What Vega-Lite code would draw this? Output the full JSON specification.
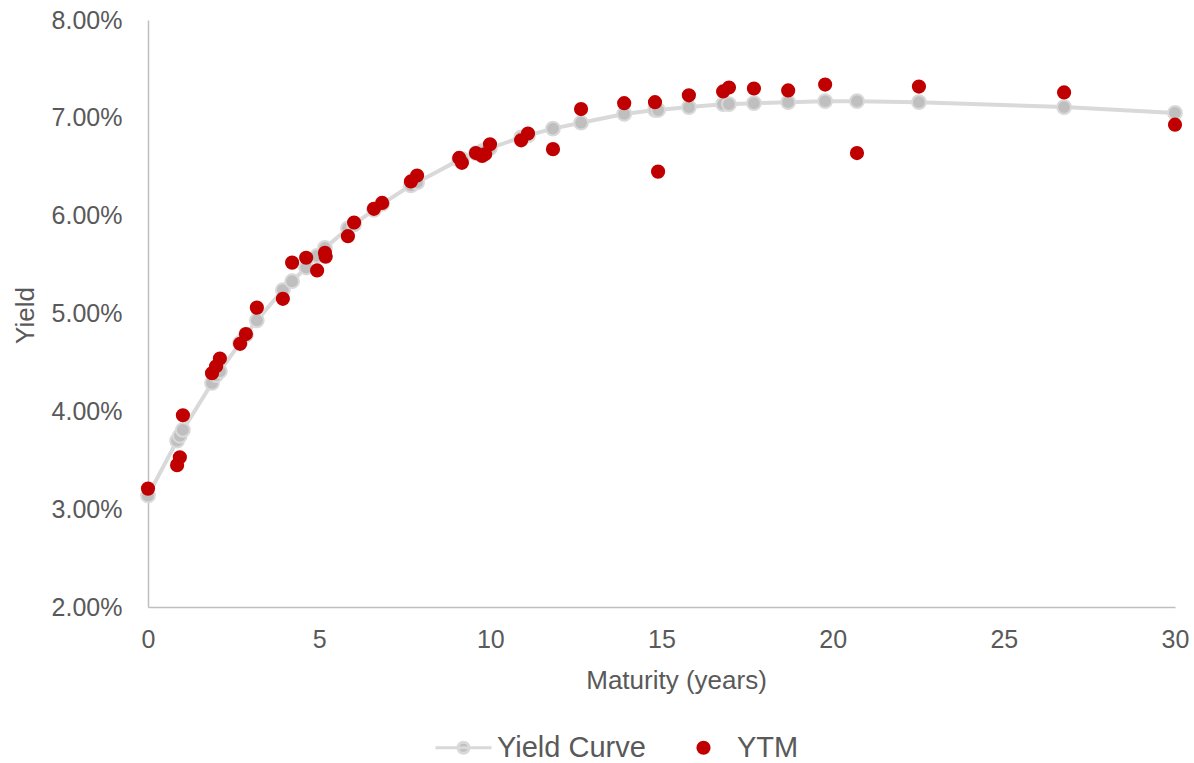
{
  "$schema": "https://vega.github.io/schema/vega-lite/v6.json",
  "width": 1027,
  "height": 587,
  "autosize": {"type": "none"},
  "padding": {"left": 148, "top": 20, "right": 19, "bottom": 156},
  "background": "white",
  "config": {
    "view": {"stroke": null},
    "font": "Liberation Sans",
    "axis": {
      "domainColor": "#bfbfbf",
      "domainWidth": 1.5,
      "ticks": false,
      "grid": false,
      "labelColor": "#595959",
      "labelFont": "Liberation Sans",
      "labelFontSize": 25,
      "labelFlush": false,
      "labelOverlap": false,
      "titleColor": "#595959",
      "titleFont": "Liberation Sans",
      "titleFontSize": 26,
      "titleFontWeight": "normal"
    },
    "legend": {
      "labelColor": "#595959",
      "labelFont": "Liberation Sans",
      "labelFontSize": 29,
      "symbolSize": 3136,
      "symbolStrokeWidth": 3,
      "symbolOpacity": 1,
      "columnPadding": 28,
      "labelOffset": 4,
      "padding": 0
    }
  },
  "data": {
    "values": [
      {"series": "Yield Curve", "m": 0.00, "y": 0.0314},
      {"series": "Yield Curve", "m": 0.85, "y": 0.0370},
      {"series": "Yield Curve", "m": 0.93, "y": 0.0375},
      {"series": "Yield Curve", "m": 1.02, "y": 0.0381},
      {"series": "Yield Curve", "m": 1.87, "y": 0.0429},
      {"series": "Yield Curve", "m": 1.99, "y": 0.0437},
      {"series": "Yield Curve", "m": 2.10, "y": 0.0441},
      {"series": "Yield Curve", "m": 2.69, "y": 0.0470},
      {"series": "Yield Curve", "m": 2.86, "y": 0.0478},
      {"series": "Yield Curve", "m": 3.18, "y": 0.0493},
      {"series": "Yield Curve", "m": 3.94, "y": 0.0524},
      {"series": "Yield Curve", "m": 4.21, "y": 0.0533},
      {"series": "Yield Curve", "m": 4.62, "y": 0.0547},
      {"series": "Yield Curve", "m": 4.94, "y": 0.0559},
      {"series": "Yield Curve", "m": 5.17, "y": 0.0567},
      {"series": "Yield Curve", "m": 5.84, "y": 0.0587},
      {"series": "Yield Curve", "m": 6.02, "y": 0.0591},
      {"series": "Yield Curve", "m": 6.60, "y": 0.0606},
      {"series": "Yield Curve", "m": 6.84, "y": 0.0612},
      {"series": "Yield Curve", "m": 7.68, "y": 0.0631},
      {"series": "Yield Curve", "m": 7.86, "y": 0.0634},
      {"series": "Yield Curve", "m": 9.09, "y": 0.0657},
      {"series": "Yield Curve", "m": 9.17, "y": 0.0658},
      {"series": "Yield Curve", "m": 9.58, "y": 0.0664},
      {"series": "Yield Curve", "m": 9.76, "y": 0.0666},
      {"series": "Yield Curve", "m": 9.85, "y": 0.0667},
      {"series": "Yield Curve", "m": 9.99, "y": 0.0669},
      {"series": "Yield Curve", "m": 10.90, "y": 0.0680},
      {"series": "Yield Curve", "m": 11.10, "y": 0.0682},
      {"series": "Yield Curve", "m": 11.83, "y": 0.0689},
      {"series": "Yield Curve", "m": 12.65, "y": 0.0695},
      {"series": "Yield Curve", "m": 13.91, "y": 0.0704},
      {"series": "Yield Curve", "m": 14.81, "y": 0.0708},
      {"series": "Yield Curve", "m": 14.90, "y": 0.0708},
      {"series": "Yield Curve", "m": 15.80, "y": 0.0711},
      {"series": "Yield Curve", "m": 16.80, "y": 0.0714},
      {"series": "Yield Curve", "m": 16.97, "y": 0.0714},
      {"series": "Yield Curve", "m": 17.70, "y": 0.0715},
      {"series": "Yield Curve", "m": 18.70, "y": 0.0716},
      {"series": "Yield Curve", "m": 19.78, "y": 0.0717},
      {"series": "Yield Curve", "m": 20.71, "y": 0.0717},
      {"series": "Yield Curve", "m": 22.52, "y": 0.0716},
      {"series": "Yield Curve", "m": 26.76, "y": 0.0711},
      {"series": "Yield Curve", "m": 30.00, "y": 0.0705},
      {"series": "YTM", "m": 0.00, "y": 0.0321},
      {"series": "YTM", "m": 0.85, "y": 0.0345},
      {"series": "YTM", "m": 0.93, "y": 0.0353},
      {"series": "YTM", "m": 1.02, "y": 0.0396},
      {"series": "YTM", "m": 1.87, "y": 0.0439},
      {"series": "YTM", "m": 1.99, "y": 0.0446},
      {"series": "YTM", "m": 2.10, "y": 0.0454},
      {"series": "YTM", "m": 2.69, "y": 0.0469},
      {"series": "YTM", "m": 2.86, "y": 0.0479},
      {"series": "YTM", "m": 3.18, "y": 0.0506},
      {"series": "YTM", "m": 3.94, "y": 0.0515},
      {"series": "YTM", "m": 4.21, "y": 0.0552},
      {"series": "YTM", "m": 4.62, "y": 0.0557},
      {"series": "YTM", "m": 4.94, "y": 0.0544},
      {"series": "YTM", "m": 5.17, "y": 0.0562},
      {"series": "YTM", "m": 5.19, "y": 0.0558},
      {"series": "YTM", "m": 5.84, "y": 0.0579},
      {"series": "YTM", "m": 6.02, "y": 0.0593},
      {"series": "YTM", "m": 6.60, "y": 0.0607},
      {"series": "YTM", "m": 6.84, "y": 0.0613},
      {"series": "YTM", "m": 7.68, "y": 0.0635},
      {"series": "YTM", "m": 7.86, "y": 0.0641},
      {"series": "YTM", "m": 9.09, "y": 0.0659},
      {"series": "YTM", "m": 9.17, "y": 0.0654},
      {"series": "YTM", "m": 9.58, "y": 0.0664},
      {"series": "YTM", "m": 9.76, "y": 0.0661},
      {"series": "YTM", "m": 9.85, "y": 0.0663},
      {"series": "YTM", "m": 9.99, "y": 0.0673},
      {"series": "YTM", "m": 10.90, "y": 0.0677},
      {"series": "YTM", "m": 11.10, "y": 0.0684},
      {"series": "YTM", "m": 11.83, "y": 0.0668},
      {"series": "YTM", "m": 12.65, "y": 0.0709},
      {"series": "YTM", "m": 13.91, "y": 0.0715},
      {"series": "YTM", "m": 14.81, "y": 0.0716},
      {"series": "YTM", "m": 14.90, "y": 0.0645},
      {"series": "YTM", "m": 15.80, "y": 0.0723},
      {"series": "YTM", "m": 16.80, "y": 0.0727},
      {"series": "YTM", "m": 16.97, "y": 0.0731},
      {"series": "YTM", "m": 17.70, "y": 0.0730},
      {"series": "YTM", "m": 18.70, "y": 0.0728},
      {"series": "YTM", "m": 19.78, "y": 0.0734},
      {"series": "YTM", "m": 20.71, "y": 0.0664},
      {"series": "YTM", "m": 22.52, "y": 0.0732},
      {"series": "YTM", "m": 26.76, "y": 0.0726},
      {"series": "YTM", "m": 30.00, "y": 0.0693}
    ]
  },
  "encoding": {
    "x": {
      "field": "m",
      "type": "quantitative",
      "scale": {"domain": [0, 30], "nice": false},
      "axis": {
        "values": [0, 5, 10, 15, 20, 25, 30],
        "title": "Maturity (years)",
        "labelPadding": 20,
        "titleBaseline": "alphabetic",
        "titleX": 528,
        "titleY": 81
      }
    },
    "y": {
      "field": "y",
      "type": "quantitative",
      "scale": {"domain": [0.02, 0.08], "nice": false, "zero": false},
      "axis": {
        "values": [0.02, 0.03, 0.04, 0.05, 0.06, 0.07, 0.08],
        "format": ".2%",
        "title": "Yield",
        "labelPadding": 26,
        "titleBaseline": "alphabetic",
        "titleX": -115,
        "titleY": 295
      }
    }
  },
  "layer": [
    {
      "transform": [{"filter": "datum.series === 'Yield Curve'"}],
      "mark": {"type": "line", "color": "#d9d9d9", "strokeWidth": 4},
      "encoding": {"order": {"field": "m", "type": "quantitative"}}
    },
    {
      "transform": [{"filter": "datum.series === 'Yield Curve'"}],
      "mark": {"type": "point", "filled": true, "fill": "#bfbfbf", "stroke": "#d9d9d9", "strokeWidth": 2, "strokeOpacity": 1, "size": 190, "opacity": 1}
    },
    {
      "transform": [{"filter": "datum.series === 'YTM'"}],
      "mark": {"type": "point", "filled": true, "size": 3136, "strokeWidth": 3, "opacity": 1},
      "encoding": {
        "color": {
          "field": "series",
          "type": "nominal",
          "scale": {"domain": ["Yield Curve", "YTM"], "range": ["#bfbfbf", "#c00000"]},
          "legend": {"orient": "none", "legendX": 286, "legendY": 698, "direction": "horizontal", "title": null}
        },
        "stroke": {
          "field": "series",
          "type": "nominal",
          "scale": {"domain": ["Yield Curve", "YTM"], "range": ["#d9d9d9", "#c00000"]},
          "legend": {"orient": "none", "legendX": 286, "legendY": 698, "direction": "horizontal", "title": null}
        },
        "shape": {
          "field": "series",
          "type": "nominal",
          "scale": {
            "domain": ["Yield Curve", "YTM"],
            "range": [
              "M-1,0H1M-0.2,0A0.2,0.2 0 1,0 0.2,0A0.2,0.2 0 1,0 -0.2,0Z",
              "M-0.2,0A0.2,0.2 0 1,0 0.2,0A0.2,0.2 0 1,0 -0.2,0Z"
            ]
          },
          "legend": {"orient": "none", "legendX": 286, "legendY": 698, "direction": "horizontal", "title": null}
        }
      }
    }
  ]
}
